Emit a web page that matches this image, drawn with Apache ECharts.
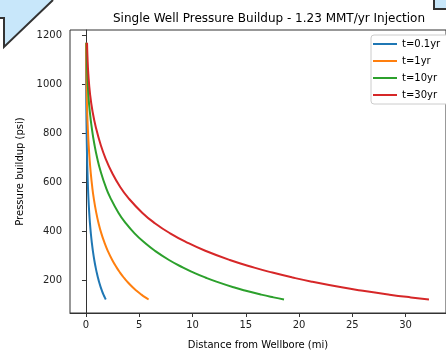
<!DOCTYPE html>
<html>
<head>
<meta charset="utf-8">
<script src="https://cdn.jsdelivr.net/npm/echarts@6/dist/echarts.min.js"></script>
<style>
html,body{margin:0;padding:0;background:#fff;}
#c{width:446px;height:355px;}
</style>
</head>
<body>
<div id="c"></div>
<script>
var seriesNames = ['t=0.1yr', 't=1yr', 't=10yr', 't=30yr'];
var xTicks = [0, 5, 10, 15, 20, 25, 30];
var yTicks = [200, 400, 600, 800, 1000, 1200];

// pressure buildup (psi) at the sampled points, shared by all curves
var pressure = [1170, 1114, 1044, 962, 889, 816, 754, 698, 644, 583, 538.5, 476, 433, 392.6, 355, 321.4, 283.8, 252.6, 232.5, 212.4, 195.4, 172.3, 158.1, 142.4, 131.2, 122.6];
// distance from wellbore (mi) for each curve
var distT01 = [0.006, 0.008, 0.013, 0.022, 0.036, 0.057, 0.080, 0.106, 0.139, 0.185, 0.228, 0.306, 0.375, 0.456, 0.548, 0.647, 0.779, 0.912, 1.010, 1.120, 1.224, 1.386, 1.501, 1.645, 1.761, 1.859];
var distT1 = [0.018, 0.026, 0.040, 0.069, 0.113, 0.179, 0.252, 0.336, 0.438, 0.584, 0.721, 0.968, 1.187, 1.442, 1.735, 2.045, 2.465, 2.885, 3.195, 3.542, 3.871, 4.382, 4.747, 5.204, 5.569, 5.879];
var distT10 = [0.058, 0.081, 0.127, 0.219, 0.358, 0.566, 0.797, 1.062, 1.386, 1.848, 2.281, 3.06, 3.753, 4.561, 5.485, 6.467, 7.794, 9.122, 10.104, 11.2, 12.24, 13.86, 15.01, 16.45, 17.61, 18.59];
var distT30 = [0.1, 0.14, 0.22, 0.38, 0.62, 0.98, 1.38, 1.84, 2.4, 3.2, 3.95, 5.3, 6.5, 7.9, 9.5, 11.2, 13.5, 15.8, 17.5, 19.4, 21.2, 24, 26, 28.5, 30.5, 32.2];

var colors = ['#1f77b4', '#ff7f0e', '#2ca02c', '#d62728'];
var dists = [distT01, distT1, distT10, distT30];

function pairs(xs) {
  return xs.map(function (x, i) { return [x, pressure[i]]; });
}

var chart = echarts.init(document.getElementById('c'), null, {renderer: 'canvas'});
var font = 'DejaVu Sans';
var option = {
  backgroundColor: '#fff',
  animation: false,
  title: {
    text: 'Single Well Pressure Buildup - 1.23 MMT/yr Injection',
    left: 264, top: 8, textAlign: 'center',
    textStyle: {fontFamily: font, fontSize: 12, fontWeight: 'normal', color: '#000'}
  },
  legend: {
    orient: 'vertical', left: 371, top: 35,
    data: seriesNames,
    icon: 'path://M0,0 L24,0 L24,2 L0,2 Z',
    itemWidth: 24, itemHeight: 2, itemGap: 5,
    padding: [3, 30, 3, 2],
    borderColor: '#ccc', borderWidth: 1, borderRadius: 3,
    backgroundColor: '#fff',
    textStyle: {fontFamily: font, fontSize: 10, color: '#000', lineHeight: 12}
  },
  grid: {left: 70, top: 30, width: 388.3, height: 289, show: true, borderColor: '#333', borderWidth: 1, backgroundColor: '#fff'},
  xAxis: {
    type: 'value', min: -1.5, max: 33.8,
    name: 'Distance from Wellbore (mi)', nameLocation: 'middle', nameGap: 27,
    nameTextStyle: {fontFamily: font, fontSize: 10, color: '#000'},
    axisLine: {show: true, lineStyle: {color: '#333'}},
    axisTick: {show: true, inside: false, length: 4, lineStyle: {color: '#333'}, customValues: xTicks},
    axisLabel: {fontFamily: font, fontSize: 10, color: '#222', margin: 7, customValues: xTicks},
    splitLine: {show: false}
  },
  yAxis: {
    type: 'value', min: 67.5, max: 1222.5,
    name: 'Pressure buildup (psi)', nameLocation: 'middle', nameGap: 34,
    nameTextStyle: {fontFamily: font, fontSize: 10, color: '#000'},
    axisLine: {show: true, lineStyle: {color: '#333'}},
    axisTick: {show: true, inside: false, length: 4, lineStyle: {color: '#333'}, customValues: yTicks},
    axisLabel: {fontFamily: font, fontSize: 10, color: '#222', margin: 8, customValues: yTicks,
      formatter: function (v) { return String(v); }},
    splitLine: {show: false}
  },
  series: dists.map(function (d, i) {
    return {
      name: seriesNames[i], type: 'line', data: pairs(d), smooth: 0.5,
      showSymbol: false, symbol: 'none',
      lineStyle: {color: colors[i], width: 2}, itemStyle: {color: colors[i]}
    };
  }),
  graphic: [
    {type: 'polygon', shape: {points: [[0,0],[53,0],[4,47],[4,18],[0,18]]}, style: {fill: '#c8e7fa', stroke: null}, z: 100},
    {type: 'polyline', shape: {points: [[0,18],[4,18],[4,47],[53,0]]}, style: {stroke: '#333', lineWidth: 2, fill: null}, z: 101},
    {type: 'rect', shape: {x: 434, y: -2, width: 20, height: 11}, style: {fill: '#c8e7fa', stroke: '#333', lineWidth: 2}, z: 100}
  ]
};
chart.setOption(option);
</script>
</body>
</html>
